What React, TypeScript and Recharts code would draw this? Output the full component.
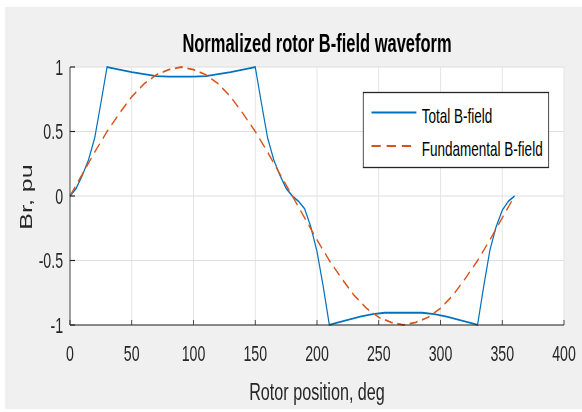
import React from 'react';
import { LineChart, Line, XAxis, YAxis, CartesianGrid, Legend, Label } from 'recharts';

// ---------- data ----------
const totalAngle = [0, 5, 10, 15, 20, 25, 30, 35, 40, 50, 60, 70, 80, 90, 100, 110, 120, 130, 140, 145, 150,
  155, 160, 165, 170, 175, 180, 185, 190, 195, 200, 205, 210, 215, 225, 235, 245, 255, 270, 285, 295, 305,
  315, 325, 330, 335, 340, 345, 350, 355, 360];
const totalValue = [0, 0.06, 0.16, 0.28, 0.45, 0.72, 1, 0.99, 0.98, 0.96, 0.945, 0.93, 0.925, 0.925, 0.925, 0.93,
  0.945, 0.96, 0.98, 0.99, 1, 0.72, 0.45, 0.28, 0.16, 0.06, 0, -0.04, -0.1, -0.24, -0.43, -0.7, -1, -0.985,
  -0.96, -0.935, -0.915, -0.905, -0.905, -0.905, -0.915, -0.935, -0.96, -0.985, -1, -0.7, -0.42, -0.24,
  -0.11, -0.04, 0];

const fundAngle = [0, 10, 20, 30, 40, 50, 60, 70, 80, 90, 100, 110, 120, 130, 140, 150, 160, 170, 180, 190, 200,
  210, 220, 230, 240, 250, 260, 270, 280, 290, 300, 310, 320, 330, 340, 350, 360];
const fundValue = [0, 0.17, 0.34, 0.5, 0.64, 0.77, 0.87, 0.94, 0.98, 1, 0.98, 0.94, 0.87, 0.77, 0.64, 0.5, 0.34,
  0.17, 0, -0.17, -0.34, -0.5, -0.64, -0.77, -0.87, -0.94, -0.98, -1, -0.98, -0.94, -0.87, -0.77, -0.64,
  -0.5, -0.34, -0.17, 0];

const xTicks = [0, 50, 100, 150, 200, 250, 300, 350, 400];
const yTicks = [-1, -0.5, 0, 0.5, 1];

const seriesNames = ['Total B-field', 'Fundamental B-field'];
const chartTitle = 'Normalized rotor B-field waveform';
const xTitle = 'Rotor position, deg';
const yTitle = 'Br, pu';

const totalData = totalAngle.map((a, i) => ({ angle: a, total: totalValue[i] }));
const fundData = fundAngle.map((a, i) => ({ angle: a, fund: fundValue[i] }));

// ---------- styles ----------
const S = 582 / 882; // horizontal squeeze of the original figure
const W = 882;
const H = 412;
const AX = '#262626';
const BLUE = '#0072BD';
const ORANGE = '#D95319';
const FONT = '"Liberation Sans", Arial, Helvetica, sans-serif';
const PLOT_LEFT = 70 / S;
const PLOT_RIGHT = 564 / S;
const TICK_H = 5 / S;

const BottomTick = (p: any) => (
  <g>
    <line x1={p.x} x2={p.x} y1={p.y} y2={p.y - 5} stroke={AX} strokeWidth={1.2} />
    <text x={p.x} y={p.y + 36} textAnchor="middle" fontSize={21.5} fill={AX} fontFamily={FONT}>
      {p.payload.value}
    </text>
  </g>
);
const TopTick = (p: any) => (
  <line x1={p.x} x2={p.x} y1={p.y} y2={p.y + 5} stroke={AX} strokeWidth={1.2} />
);
const LeftTick = (p: any) => (
  <g>
    <line x1={p.x + 10.5} x2={p.x + 10.5 + TICK_H} y1={p.y} y2={p.y} stroke={AX} strokeWidth={1.2} />
    <text x={p.x} y={p.y + 8} textAnchor="end" fontSize={21.5} fill={AX} fontFamily={FONT}>
      {p.payload.value}
    </text>
  </g>
);
const RightTick = (p: any) => (
  <line x1={p.x} x2={p.x - TICK_H} y1={p.y} y2={p.y} stroke={AX} strokeWidth={1.2} />
);

const LegendBox = () => (
  <svg width={282} height={76} style={{ display: 'block', overflow: 'visible' }}>
    <rect x={0.5} y={0.5} width={281} height={75} fill="#fff" stroke={AX} strokeWidth={1.3} />
    <line x1={13} x2={81} y1={20.5} y2={20.5} stroke={BLUE} strokeWidth={1.8} />
    <text x={89} y={31} fontSize={20.5} fill="#000" fontFamily={FONT}>{seriesNames[0]}</text>
    <line x1={13} x2={81} y1={54} y2={54} stroke={ORANGE} strokeWidth={1.8} strokeDasharray="14 9" />
    <text x={89} y={64.5} fontSize={20.5} fill="#000" fontFamily={FONT}>{seriesNames[1]}</text>
  </svg>
);

export default function App() {
  return (
    <div style={{ position: 'relative', width: 582, height: H, overflow: 'hidden', background: '#fff' }}>
      <style>{'body{margin:0;}'}</style>
      <div style={{ position: 'absolute', left: 5, top: 7, width: 577, height: 402, background: '#f0f0f0' }} />
      <div
        style={{
          position: 'absolute',
          left: 0,
          top: 0,
          width: W,
          height: H,
          transform: `scaleX(${S})`,
          transformOrigin: '0 0',
        }}
      >
        <LineChart width={W} height={H} margin={{ top: 67, right: W - PLOT_RIGHT, left: 0, bottom: 27 }}>
          <CartesianGrid stroke="#dedede" strokeWidth={1.2} fill="#ffffff" />
          <XAxis
            dataKey="angle"
            type="number"
            domain={[0, 400]}
            ticks={xTicks}
            height={60}
            tickSize={0}
            tickMargin={0}
            tick={<BottomTick />}
            axisLine={{ stroke: AX, strokeWidth: 1.2 }}
            allowDuplicatedCategory={false}
          >
            <Label
              content={(lp: any) => {
                const vb = lp.viewBox || { x: PLOT_LEFT, width: PLOT_RIGHT - PLOT_LEFT, y: 325 };
                return (
                  <text x={vb.x + vb.width / 2} y={400} textAnchor="middle" fontSize={24.5} fill={AX} fontFamily={FONT}>
                    {xTitle}
                  </text>
                );
              }}
            />
          </XAxis>
          <XAxis
            xAxisId="top"
            orientation="top"
            type="number"
            domain={[0, 400]}
            ticks={xTicks}
            height={0}
            tickSize={0}
            tickMargin={0}
            tick={<TopTick />}
            axisLine={{ stroke: AX, strokeWidth: 1.2 }}
          />
          <YAxis
            type="number"
            domain={[-1, 1]}
            ticks={yTicks}
            width={PLOT_LEFT}
            tickSize={0}
            tickMargin={10.5}
            tick={<LeftTick />}
            axisLine={{ stroke: AX, strokeWidth: 1.2 }}
          >
            <Label
              content={(lp: any) => {
                const vb = lp.viewBox || { x: 0, y: 67, height: 258 };
                const cy = vb.y + vb.height / 2 + 1;
                return (
                  <text
                    x={48.5}
                    y={cy}
                    transform={`rotate(-90, 48.5, ${cy})`}
                    textAnchor="middle"
                    fontSize={25}
                    fill={AX}
                    fontFamily={FONT}
                  >
                    {yTitle}
                  </text>
                );
              }}
            />
          </YAxis>
          <YAxis
            yAxisId="right"
            orientation="right"
            type="number"
            domain={[-1, 1]}
            ticks={yTicks}
            width={0}
            tickSize={0}
            tickMargin={0}
            tick={<RightTick />}
            axisLine={{ stroke: AX, strokeWidth: 1.2 }}
          />
          <Legend
            layout="vertical"
            align="center"
            verticalAlign="middle"
            wrapperStyle={{ left: 363 / S, top: 92, width: 282, height: 76 }}
            content={() => <LegendBox />}
          />
          <Line
            data={totalData}
            dataKey="total"
            name={seriesNames[0]}
            type="linear"
            stroke={BLUE}
            strokeWidth={1.8}
            dot={false}
            isAnimationActive={false}
          />
          <Line
            data={fundData}
            dataKey="fund"
            name={seriesNames[1]}
            type="linear"
            stroke={ORANGE}
            strokeWidth={1.8}
            strokeDasharray="12 7"
            dot={false}
            isAnimationActive={false}
          />
        </LineChart>
        <svg
          width={W}
          height={70}
          style={{ position: 'absolute', left: 0, top: 0, pointerEvents: 'none' }}
        >
          <text
            x={(PLOT_LEFT + PLOT_RIGHT) / 2}
            y={52.5}
            textAnchor="middle"
            fontSize={25}
            fontWeight="bold"
            fill="#000"
            fontFamily={FONT}
          >
            {chartTitle}
          </text>
        </svg>
      </div>
    </div>
  );
}
